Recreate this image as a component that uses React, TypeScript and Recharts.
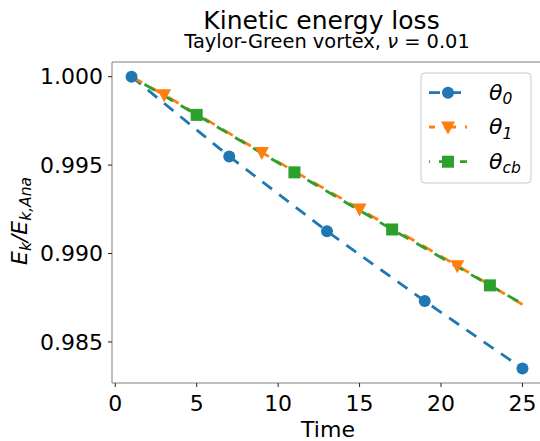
import { ComposedChart, Line, Scatter, XAxis, YAxis, ReferenceLine } from "recharts"

const theta0Time = [1, 7, 13, 19, 25]
const theta0Ratio = [1.0, 0.99549, 0.99126, 0.98731, 0.9835]

const theta1Time = [1, 3, 9, 15, 21, 25]
const theta1Ratio = [1.0, 0.99898, 0.99571, 0.99252, 0.98931, 0.98712]
const theta1MarkTime = [3, 9, 15, 21]
const theta1MarkRatio = [0.99898, 0.99571, 0.99252, 0.98931]

const thetaCbTime = [1, 5, 11, 17, 23, 25]
const thetaCbRatio = [1.0, 0.99784, 0.99459, 0.99136, 0.9882, 0.98716]
const thetaCbMarkTime = [5, 11, 17, 23]
const thetaCbMarkRatio = [0.99784, 0.99459, 0.99136, 0.9882]

const xTicks = [0, 5, 10, 15, 20, 25]
const yTicks = [0.985, 0.99, 0.995, 1.0]
const yMax = 1.00083
const yMin = 0.98268

const BLUE = "#1f77b4"
const ORANGE = "#ff7f0e"
const GREEN = "#2ca02c"
const FONT = "DejaVu Sans"
const DASH = "12 9"

const toRows = (t: number[], v: number[]) => t.map((time, i) => ({ time, ratio: v[i] }))

const theta0 = toRows(theta0Time, theta0Ratio)
const theta1 = toRows(theta1Time, theta1Ratio)
const theta1Marks = toRows(theta1MarkTime, theta1MarkRatio)
const thetaCb = toRows(thetaCbTime, thetaCbRatio)
const thetaCbMarks = toRows(thetaCbMarkTime, thetaCbMarkRatio)

const circle = (color: string) => (p: any) => <circle cx={p.cx} cy={p.cy} r={6} fill={color} />
const triDown = (color: string) => (p: any) => (
  <polygon
    points={`${p.cx - 7},${p.cy - 5.5} ${p.cx + 7},${p.cy - 5.5} ${p.cx},${p.cy + 7.5}`}
    fill={color}
  />
)
const square = (color: string) => (p: any) => (
  <rect x={p.cx - 6} y={p.cy - 6} width={12} height={12} fill={color} />
)

function LegendRow({ y, color, offset, marker, sub }: any) {
  return (
    <g>
      <line x1={429} x2={467} y1={y} y2={y} stroke={color} strokeWidth={2.8} strokeDasharray={DASH} strokeDashoffset={offset} />
      {marker(color)({ cx: 448, cy: y })}
      <text x={489} y={y + 7} fontFamily={FONT} fontSize={22} fontStyle="italic">
        θ
        <tspan fontSize={15.5} dy={4.5}>{sub}</tspan>
      </text>
    </g>
  )
}

export default function App() {
  return (
    <div style={{ position: "absolute", left: 0, top: 0, width: 540, height: 441, overflow: "hidden", background: "#fff" }}>
      <ComposedChart width={550} height={441} margin={{ top: 62, right: 8, bottom: 0, left: 0 }}>
        <XAxis
          dataKey="time"
          type="number"
          domain={[-0.2, 26.2]}
          allowDataOverflow
          ticks={xTicks}
          height={58}
          stroke="#808080"
          tickSize={4}
          tickMargin={8}
          tickLine={{ stroke: "#222" }}
          tick={{ fill: "#000", fontSize: 22, fontFamily: FONT }}
        />
        <YAxis
          type="number"
          domain={[yMin, yMax]}
          allowDataOverflow
          ticks={yTicks}
          width={112}
          stroke="#808080"
          tickSize={4}
          tickMargin={5}
          tickLine={{ stroke: "#222" }}
          tickFormatter={(v: number) => v.toFixed(3)}
          tick={{ fill: "#000", fontSize: 22, fontFamily: FONT }}
        />
        <ReferenceLine y={yMax} stroke="#808080" strokeWidth={1.2} />
        <Line data={theta0} dataKey="ratio" type="linear" stroke={BLUE} strokeWidth={2.8} strokeDasharray={DASH} dot={false} isAnimationActive={false} />
        <Scatter data={theta0} dataKey="ratio" shape={circle(BLUE)} isAnimationActive={false} />
        <Line data={theta1} dataKey="ratio" type="linear" stroke={ORANGE} strokeWidth={2.8} strokeDasharray={DASH} dot={false} isAnimationActive={false} />
        <Scatter data={theta1Marks} dataKey="ratio" shape={triDown(ORANGE)} isAnimationActive={false} />
        <Line data={thetaCb} dataKey="ratio" type="linear" stroke={GREEN} strokeWidth={2.8} strokeDasharray={DASH} strokeDashoffset={6} dot={false} isAnimationActive={false} />
        <Scatter data={thetaCbMarks} dataKey="ratio" shape={square(GREEN)} isAnimationActive={false} />
      </ComposedChart>
      <svg width={540} height={441} style={{ position: "absolute", left: 0, top: 0, pointerEvents: "none" }}>
        <text x={321.5} y={28.5} textAnchor="middle" fontFamily={FONT} fontSize={25}>Kinetic energy loss</text>
        <text x={327} y={47.5} textAnchor="middle" fontFamily={FONT} fontSize={19.4}>
          Taylor-Green vortex, <tspan fontStyle="italic">ν</tspan> = 0.01
        </text>
        <text x={328} y={436.5} textAnchor="middle" fontFamily={FONT} fontSize={22}>Time</text>
        <text transform="translate(27,221) rotate(-90)" textAnchor="middle" fontFamily={FONT} fontSize={22} fontStyle="italic">
          E<tspan fontSize={15.5} dy={4}>k</tspan>
          <tspan dy={-4}>/E</tspan>
          <tspan fontSize={15.5} dy={4}>k,Ana</tspan>
        </text>
        <rect x={421} y={73} width={110} height={110} rx={4} fill="#fff" fillOpacity={0.8} stroke="#cccccc" strokeWidth={1} />
        <LegendRow y={92.7} color={BLUE} offset={1} marker={circle} sub="0" />
        <LegendRow y={127} color={ORANGE} offset={6} marker={triDown} sub="1" />
        <LegendRow y={161.7} color={GREEN} offset={-10} marker={square} sub="cb" />
      </svg>
    </div>
  )
}
